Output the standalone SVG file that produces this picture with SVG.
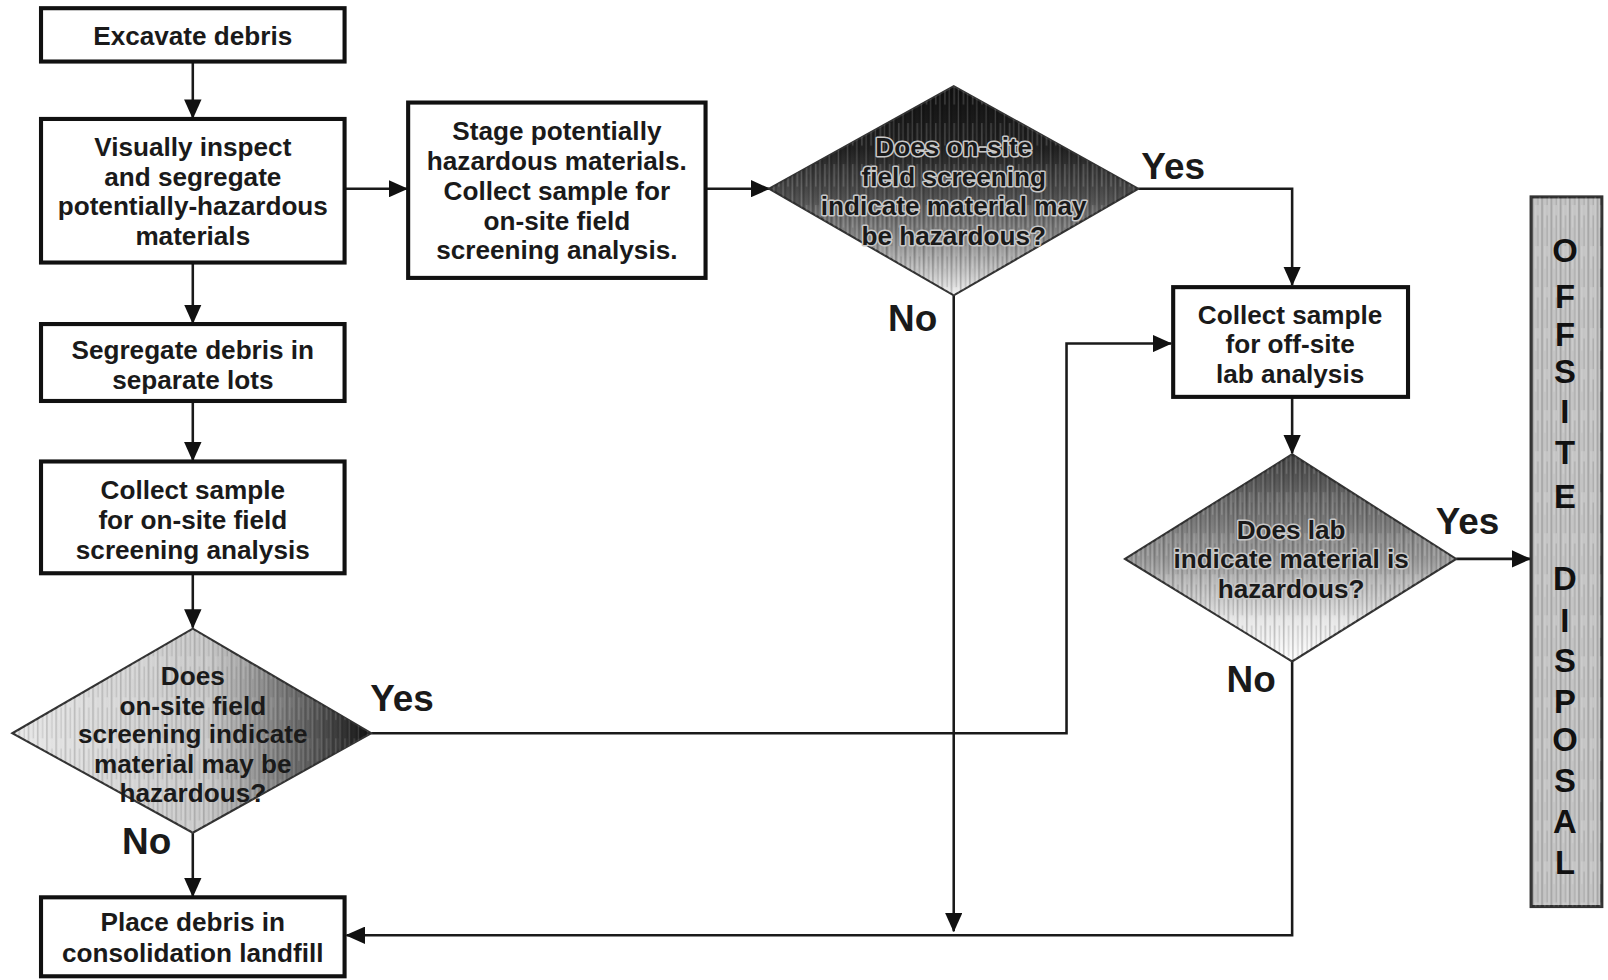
<svg xmlns="http://www.w3.org/2000/svg" width="1608" height="980" viewBox="0 0 1608 980">
<style>
.box{fill:#fff;stroke:#111;stroke-width:4}
.t{font-family:"Liberation Sans",Arial,sans-serif;font-weight:bold;font-size:25.5px;fill:#1a1a1a;text-anchor:middle}
.th{paint-order:stroke;stroke:#c8c8c8;stroke-width:3;stroke-linejoin:round}
.lbl{font-family:"Liberation Sans",Arial,sans-serif;font-weight:bold;font-size:36px;fill:#1a1a1a;text-anchor:middle}
.big{font-family:"Liberation Sans",Arial,sans-serif;font-weight:bold;font-size:32px;fill:#111;text-anchor:middle}
.c{fill:none;stroke:#1a1a1a;stroke-width:2.5}
.dia{stroke:#333;stroke-width:2}
</style>
<defs>
<marker id="ah" markerUnits="userSpaceOnUse" markerWidth="19" markerHeight="17" refX="18" refY="8.5" orient="auto">
<path d="M0,0 L19,8.5 L0,17 z" fill="#111"/>
</marker>
<pattern id="hatch" width="9" height="40" patternUnits="userSpaceOnUse">
<rect x="0" y="0" width="1.5" height="40" fill="#000" opacity="0.35"/>
<rect x="3" y="0" width="1" height="22" fill="#fff" opacity="0.4"/>
<rect x="5" y="10" width="1.2" height="30" fill="#000" opacity="0.25"/>
<rect x="7" y="0" width="1" height="40" fill="#fff" opacity="0.3"/>
</pattern>
<linearGradient id="g1" x1="0" y1="0" x2="0" y2="1">
<stop offset="0" stop-color="#111"/>
<stop offset="0.3" stop-color="#222"/>
<stop offset="0.55" stop-color="#555"/>
<stop offset="0.78" stop-color="#9a9a9a"/>
<stop offset="1" stop-color="#f0f0f0"/>
</linearGradient>
<linearGradient id="g2" x1="0" y1="0" x2="0" y2="1">
<stop offset="0" stop-color="#444"/>
<stop offset="0.5" stop-color="#999"/>
<stop offset="0.8" stop-color="#e6e6e6"/>
<stop offset="1" stop-color="#fff"/>
</linearGradient>
<linearGradient id="g3" x1="0" y1="0" x2="1" y2="0">
<stop offset="0" stop-color="#e8e8e8"/>
<stop offset="0.55" stop-color="#c8c8c8"/>
<stop offset="0.85" stop-color="#555"/>
<stop offset="1" stop-color="#111"/>
</linearGradient>
</defs>
<rect width="1608" height="980" fill="#fff"/>
<g transform="scale(1.02551)">

<g id="connectors">
<line class="c" x1="188" y1="60" x2="188" y2="115" marker-end="url(#ah)"/>
<line class="c" x1="336" y1="184" x2="397" y2="184" marker-end="url(#ah)"/>
<line class="c" x1="688" y1="184" x2="750" y2="184" marker-end="url(#ah)"/>
<polyline class="c" points="1110,184 1260,184 1260,278" marker-end="url(#ah)"/>
<line class="c" x1="930" y1="288" x2="930" y2="908" marker-end="url(#ah)"/>
<line class="c" x1="1260" y1="387" x2="1260" y2="442" marker-end="url(#ah)"/>
<line class="c" x1="1420" y1="545" x2="1492" y2="545" marker-end="url(#ah)"/>
<polyline class="c" points="1260,645 1260,912 338,912" marker-end="url(#ah)"/>
<line class="c" x1="188" y1="256" x2="188" y2="315" marker-end="url(#ah)"/>
<line class="c" x1="188" y1="391" x2="188" y2="449" marker-end="url(#ah)"/>
<line class="c" x1="188" y1="559" x2="188" y2="612" marker-end="url(#ah)"/>
<polyline class="c" points="362,715 1040,715 1040,335 1142,335" marker-end="url(#ah)"/>
<line class="c" x1="188" y1="812" x2="188" y2="874" marker-end="url(#ah)"/>
<text class="lbl" x="1144" y="175">Yes</text>
<text class="lbl" x="890" y="323">No</text>
<text class="lbl" x="1431" y="521">Yes</text>
<text class="lbl" x="1220" y="675">No</text>
<text class="lbl" x="392" y="693">Yes</text>
<text class="lbl" x="143" y="833">No</text>
</g>

<g id="excavate">
<rect class="box" x="40" y="8" width="296" height="52"/>
<text class="t" x="188" y="44">Excavate debris</text>
</g>

<g id="inspect">
<rect class="box" x="40" y="116" width="296" height="140"/>
<text class="t" x="188" y="152">Visually inspect</text>
<text class="t" x="188" y="181">and segregate</text>
<text class="t" x="188" y="210">potentially-hazardous</text>
<text class="t" x="188" y="239">materials</text>
</g>

<g id="stage">
<rect class="box" x="398" y="100" width="290" height="171"/>
<text class="t" x="543" y="137">Stage potentially</text>
<text class="t" x="543" y="166">hazardous materials.</text>
<text class="t" x="543" y="195">Collect sample for</text>
<text class="t" x="543" y="224">on-site field</text>
<text class="t" x="543" y="253">screening analysis.</text>
</g>

<g id="decision-onsite-1">
<polygon class="dia" points="750,184 930,84 1110,184 930,288" fill="url(#g1)"/>
<polygon points="750,184 930,84 1110,184 930,288" fill="url(#hatch)" opacity="0.6"/>
<text class="t th" x="930" y="152">Does on-site</text>
<text class="t th" x="930" y="181">field screening</text>
<text class="t th" x="930" y="210">indicate material may</text>
<text class="t th" x="930" y="239">be hazardous?</text>
</g>

<g id="collect-offsite">
<rect class="box" x="1144" y="280" width="229" height="107"/>
<text class="t" x="1258" y="316">Collect sample</text>
<text class="t" x="1258" y="344">for off-site</text>
<text class="t" x="1258" y="373">lab analysis</text>
</g>

<g id="decision-lab">
<polygon class="dia" points="1097,545 1260,443 1420,545 1260,645" fill="url(#g2)"/>
<polygon points="1097,545 1260,443 1420,545 1260,645" fill="url(#hatch)" opacity="0.6"/>
<text class="t th" x="1259" y="526">Does lab</text>
<text class="t th" x="1259" y="554">indicate material is</text>
<text class="t th" x="1259" y="583">hazardous?</text>
</g>

<g id="offsite-disposal">
<rect x="1493" y="192" width="69" height="692" fill="#c4c4c4" stroke="#333" stroke-width="3"/>
<rect x="1493" y="192" width="69" height="692" fill="url(#hatch)" opacity="0.5"/>
<text class="big" x="1526" y="255">O</text>
<text class="big" x="1526" y="300">F</text>
<text class="big" x="1526" y="337">F</text>
<text class="big" x="1526" y="373">S</text>
<text class="big" x="1526" y="412">I</text>
<text class="big" x="1526" y="452">T</text>
<text class="big" x="1526" y="495">E</text>
<text class="big" x="1526" y="575">D</text>
<text class="big" x="1526" y="616">I</text>
<text class="big" x="1526" y="655">S</text>
<text class="big" x="1526" y="695">P</text>
<text class="big" x="1526" y="732">O</text>
<text class="big" x="1526" y="772">S</text>
<text class="big" x="1526" y="812">A</text>
<text class="big" x="1526" y="852">L</text>
</g>

<g id="segregate">
<rect class="box" x="40" y="316" width="296" height="75"/>
<text class="t" x="188" y="350">Segregate debris in</text>
<text class="t" x="188" y="379">separate lots</text>
</g>

<g id="collect-onsite">
<rect class="box" x="40" y="450" width="296" height="109"/>
<text class="t" x="188" y="487">Collect sample</text>
<text class="t" x="188" y="516">for on-site field</text>
<text class="t" x="188" y="545">screening analysis</text>
</g>

<g id="decision-onsite-2">
<polygon class="dia" points="12,715 188,613 362,715 188,812" fill="url(#g3)"/>
<polygon points="12,715 188,613 362,715 188,812" fill="url(#hatch)" opacity="0.45"/>
<text class="t" x="188" y="668">Does</text>
<text class="t" x="188" y="697">on-site field</text>
<text class="t" x="188" y="725">screening indicate</text>
<text class="t" x="188" y="754">material may be</text>
<text class="t" x="188" y="782">hazardous?</text>
</g>

<g id="landfill">
<rect class="box" x="40" y="875" width="296" height="77"/>
<text class="t" x="188" y="908">Place debris in</text>
<text class="t" x="188" y="938">consolidation landfill</text>
</g>
</g>
</svg>
